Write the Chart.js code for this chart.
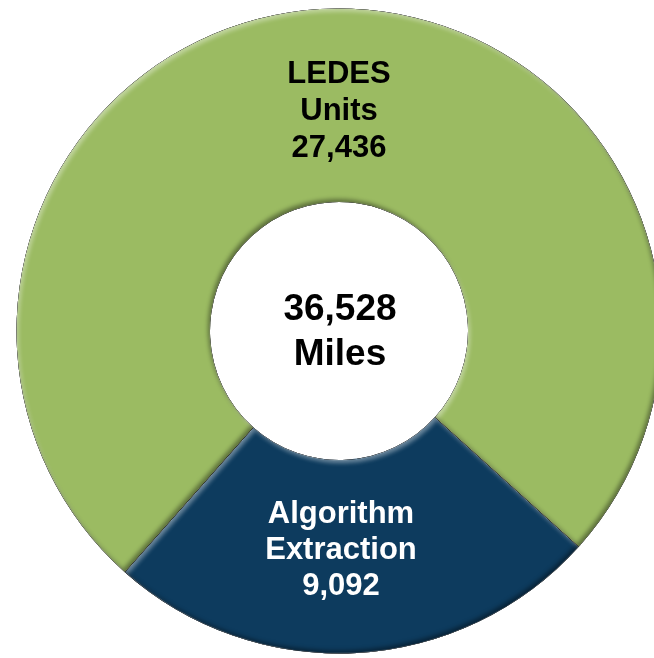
<!DOCTYPE html>
<html>
<head>
<meta charset="utf-8">
<script src="https://cdn.jsdelivr.net/npm/chart.js@4.4.1/dist/chart.umd.min.js"></script>
<style>
  html, body { margin: 0; padding: 0; background: #fff; overflow: hidden; width: 654px; height: 658px; }
  #wrap { position: absolute; left: 16px; top: 8px; width: 646px; height: 646px; }
</style>
</head>
<body>
<div id="wrap"><canvas id="milesChart"></canvas></div>
<script>
// dati del grafico
const categories = [['Algorithm', 'Extraction'], ['LEDES', 'Units']];
const miles = [9092, 27436];
const sliceColors = ['#0d3b5e', '#9bbb62'];
const labelColors = ['#ffffff', '#000000'];
const totalLabel = ['36,528', 'Miles'];

const fmt = v => v.toLocaleString('en-US');

// percorso di una fetta (per ritaglio ed effetto rilievo)
function addArcPath(ctx, a) {
    ctx.moveTo(a.x + a.outerRadius * Math.cos(a.startAngle), a.y + a.outerRadius * Math.sin(a.startAngle));
    ctx.arc(a.x, a.y, a.outerRadius, a.startAngle, a.endAngle);
    ctx.arc(a.x, a.y, a.innerRadius, a.endAngle, a.startAngle, true);
    ctx.closePath();
}

// Plugin per l'effetto smussato (luce dall'alto a sinistra)
const bevelPlugin = {
    id: 'bevel',
    afterDatasetsDraw(chart) {
        const ctx = chart.ctx;
        const meta = chart.getDatasetMeta(0);
        meta.data.forEach(el => {
            const a = el.getProps(['x', 'y', 'startAngle', 'endAngle', 'innerRadius', 'outerRadius'], true);
            const passes = [
                { color: 'rgba(255,255,255,0.4)', dx: 2, dy: 3 },
                { color: 'rgba(0,0,0,0.4)', dx: -2, dy: -3 }
            ];
            passes.forEach(p => {
                ctx.save();
                ctx.beginPath();
                addArcPath(ctx, a);
                ctx.clip();
                ctx.beginPath();
                ctx.rect(-2000, -2000, 5000, 5000);
                addArcPath(ctx, a);
                ctx.shadowColor = p.color;
                ctx.shadowBlur = 4;
                ctx.shadowOffsetX = p.dx;
                ctx.shadowOffsetY = p.dy;
                ctx.fillStyle = '#000';
                ctx.fill('evenodd');
                ctx.restore();
            });
        });
    }
};

// Plugin per le etichette dentro le fette e il totale al centro
const labelsPlugin = {
    id: 'sliceLabels',
    afterDraw(chart) {
        const ctx = chart.ctx;
        const meta = chart.getDatasetMeta(0);
        const cx = (chart.chartArea.left + chart.chartArea.right) / 2;
        const cy = (chart.chartArea.top + chart.chartArea.bottom) / 2;
        ctx.save();
        ctx.textAlign = 'center';
        ctx.textBaseline = 'middle';
        meta.data.forEach((arc, i) => {
            const p = arc.getCenterPoint();
            const lines = categories[i].concat([fmt(miles[i])]);
            const lh = i === 0 ? 36 : 37;
            const yOff = i === 0 ? -6 : 6;
            ctx.fillStyle = labelColors[i];
            ctx.font = 'bold 31px "Liberation Sans", Arial, sans-serif';
            lines.forEach((t, k) => {
                ctx.fillText(t, cx + (i === 0 ? 2 : 0), p.y + yOff + (k - 1) * lh);
            });
        });
        ctx.fillStyle = '#000';
        ctx.font = 'bold 37px "Liberation Sans", Arial, sans-serif';
        ctx.fillText(totalLabel[0], cx + 1, cy - 21);
        ctx.fillText(totalLabel[1], cx + 1, cy + 24);
        ctx.restore();
    }
};

const ctx = document.getElementById('milesChart').getContext('2d');
new Chart(ctx, {
    type: 'doughnut',
    data: {
        labels: categories.map(c => c.join(' ')),
        datasets: [{
            data: miles,
            backgroundColor: sliceColors,
            borderColor: 'rgba(255,255,255,0.3)',
            borderWidth: 1
        }]
    },
    options: {
        responsive: true,
        maintainAspectRatio: false,
        animation: false,
        cutout: '40%',
        rotation: 132,
        layout: { padding: 0 },
        plugins: {
            legend: { display: false },
            tooltip: { enabled: false }
        }
    },
    plugins: [bevelPlugin, labelsPlugin]
});
</script>
</body>
</html>
